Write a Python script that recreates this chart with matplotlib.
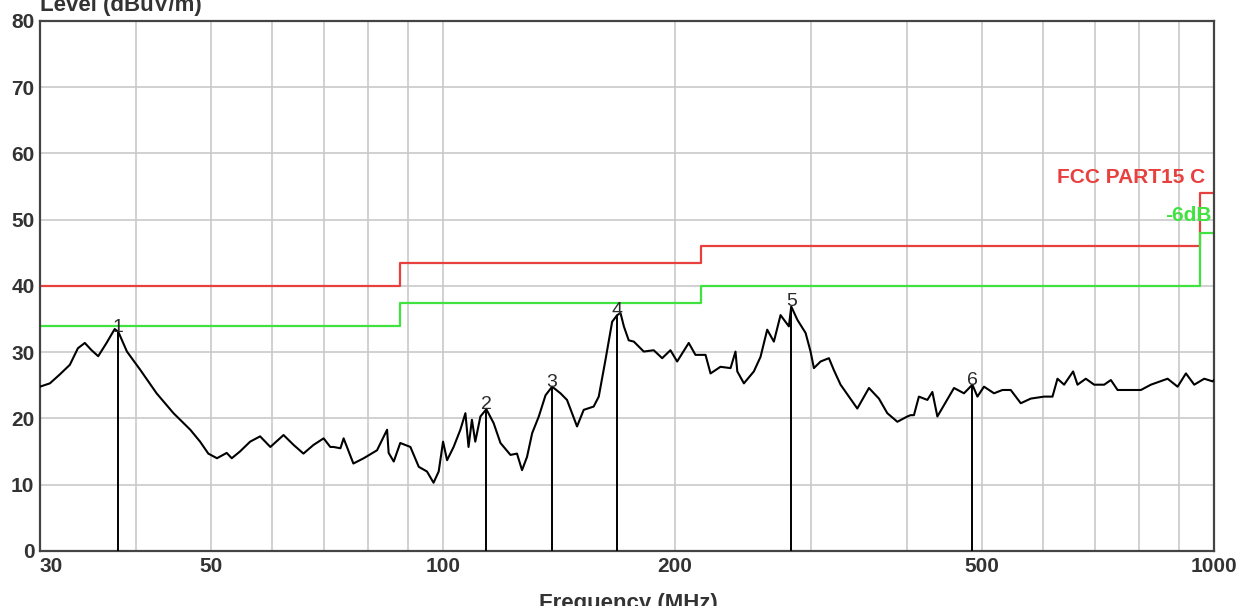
import matplotlib
matplotlib.use("Agg")
import matplotlib.pyplot as plt
import numpy as np

plt.rcParams['font.family'] = ['Liberation Sans', 'DejaVu Sans']

freq = [30.0, 30.9, 31.8, 32.8, 33.6, 34.3, 35.0, 35.7, 36.6, 37.5, 37.9, 38.9,
        40.5, 42.5, 44.7, 47.0, 48.4, 49.6, 50.9, 52.4, 53.2, 54.5, 56.2, 57.9,
        59.7, 62.1, 64.0, 65.9, 67.9, 70.0, 71.4, 72.1, 73.6, 74.3, 76.5, 78.9,
        82.1, 84.6, 85.0, 86.3, 88.0, 90.7, 93.0, 95.3, 97.2, 98.7, 100.0, 101.2,
        103.2, 105.3, 106.9, 107.9, 109.0, 110.1, 111.8, 113.8, 116.3, 118.7,
        122.3, 124.7, 126.6, 128.5, 130.5, 133.1, 135.8, 138.5, 142.0, 144.8,
        149.2, 152.2, 156.8, 159.2, 162.4, 165.7, 168.2, 169.9, 171.6, 174.1,
        176.8, 182.1, 187.6, 192.4, 197.2, 201.2, 208.3, 212.5, 219.0, 222.3,
        229.0, 236.0, 239.5, 240.8, 245.6, 253.0, 258.1, 263.3, 268.6, 274.0,
        280.9, 282.9, 288.1, 295.3, 299.7, 302.7, 308.8, 316.6, 321.3, 327.8,
        336.1, 344.6, 356.8, 367.6, 376.9, 388.4, 400.1, 404.1, 408.1, 414.2,
        424.8, 431.2, 437.7, 446.4, 460.0, 473.9, 486.0, 493.3, 503.1, 518.4,
        531.6, 544.9, 561.5, 578.5, 602.0, 617.3, 626.6, 639.1, 656.5, 665.2,
        681.9, 699.1, 720.3, 734.9, 749.8, 772.5, 803.9, 828.2, 870.6, 897.0,
        919.6, 942.7, 971.3, 996.0, 1000.0]
level = [24.8, 25.3, 26.6, 28.1, 30.6, 31.4, 30.3, 29.4, 31.4, 33.5, 33.1, 30.1,
         27.3, 23.8, 20.8, 18.3, 16.5, 14.7, 14.0, 14.8, 14.0, 15.0, 16.5, 17.3,
         15.7, 17.5, 16.0, 14.7, 16.0, 17.0, 15.7, 15.7, 15.5, 17.0, 13.2, 14.0,
         15.2, 18.3, 14.8, 13.5, 16.3, 15.7, 12.7, 12.0, 10.3, 12.0, 16.5, 13.7,
         15.7, 18.3, 20.8, 15.7, 19.8, 16.5, 20.3, 21.4, 19.3, 16.3,
         14.5, 14.7, 12.2, 14.2, 17.8, 20.3, 23.5, 24.8, 23.8, 22.8,
         18.8, 21.3, 21.8, 23.3, 28.8, 34.6, 35.6, 35.9, 33.9, 31.8,
         31.6, 30.1, 30.3, 29.1, 30.3, 28.6, 31.4, 29.6, 29.6, 26.8,
         27.8, 27.6, 30.1, 27.1, 25.3, 27.1, 29.3, 33.4, 31.6, 35.6,
         33.9, 36.9, 34.9, 32.9, 30.1, 27.6, 28.6, 29.1, 27.3, 25.1,
         23.3, 21.5, 24.6, 23.0, 20.8, 19.5, 20.3, 20.5, 20.5, 23.3,
         22.8, 24.0, 20.3, 22.0, 24.6, 23.8, 25.1, 23.3, 24.8, 23.8,
         24.3, 24.3, 22.3, 23.0, 23.3, 23.3, 26.0, 25.1, 27.1, 25.1,
         26.0, 25.1, 25.1, 25.8, 24.3, 24.3, 24.3, 25.1, 26.0, 24.8,
         26.8, 25.1, 26.0, 25.6, 25.8]

# FCC Part 15 C limit (step edges) and the -6dB margin line
limit_freq = [30, 88, 88, 216, 216, 960, 960, 1000]
limit_level = [40, 40, 43.5, 43.5, 46, 46, 54, 54]
margin_level = [34, 34, 37.5, 37.5, 40, 40, 48, 48]

# peak markers
mark_freq = [37.9, 113.8, 138.5, 168.2, 282.9, 486.0]
mark_level = [33.1, 21.4, 24.8, 35.6, 36.9, 25.1]

xticks = [30, 50, 100, 200, 500, 1000]
grid_x = [40, 50, 60, 70, 80, 90, 100, 200, 300, 400, 500, 600, 700, 800, 900]

fig = plt.figure(figsize=(12.45, 6.06), dpi=100)
ax = fig.add_axes([0.0321, 0.0908, 0.9430, 0.8746])

red = '#e8403f'
green = '#3fe23f'

for g in grid_x:
    ax.axvline(g, color='#c9c9c9', lw=1.2, zorder=0)
for g in range(10, 80, 10):
    ax.axhline(g, color='#c9c9c9', lw=1.2, zorder=0)

ax.plot(limit_freq, limit_level, color=red, lw=1.6, zorder=2)
ax.plot(limit_freq, margin_level, color=green, lw=1.6, zorder=2)
ax.plot(freq, level, color='black', lw=1.5, zorder=3)

for i, (f, l) in enumerate(zip(mark_freq, mark_level)):
    ax.vlines(f, 0, l, color='black', lw=1.4, zorder=3)
    ax.text(f, l - 0.6, str(i + 1), ha='center', va='bottom',
            fontsize=14, color='#2a2a2a', zorder=4)

ax.text(975, 56.3, 'FCC PART15 C', color=red, fontsize=15, fontweight='bold',
        ha='right', va='center')
ax.text(993, 50.6, '-6dB', color=green, fontsize=15, fontweight='bold',
        ha='right', va='center')

ax.set_xscale('log')
ax.set_xlim(30, 1000)
ax.set_ylim(0, 80)
ax.set_xticks(xticks)
ax.set_xticklabels([str(t) for t in xticks])
ax.xaxis.set_minor_locator(matplotlib.ticker.NullLocator())
ax.set_yticks(range(0, 90, 10))
ax.tick_params(length=0, labelsize=15, labelcolor='#333333', pad=4)
for lab in ax.get_xticklabels() + ax.get_yticklabels():
    lab.set_fontweight('bold')
ax.get_xticklabels()[0].set_horizontalalignment('left')
for s in ax.spines.values():
    s.set_color('#444444')
    s.set_linewidth(1.6)

fig.text(0.032, 0.982, 'Level (dBuV/m)', fontsize=16, color='#333333',
         va='baseline', fontweight='bold')
fig.text(0.505, 0.022, 'Frequency (MHz)', fontsize=16, color='#333333',
         ha='center', va='top', fontweight='bold')

fig.savefig('out.png', dpi=100)
